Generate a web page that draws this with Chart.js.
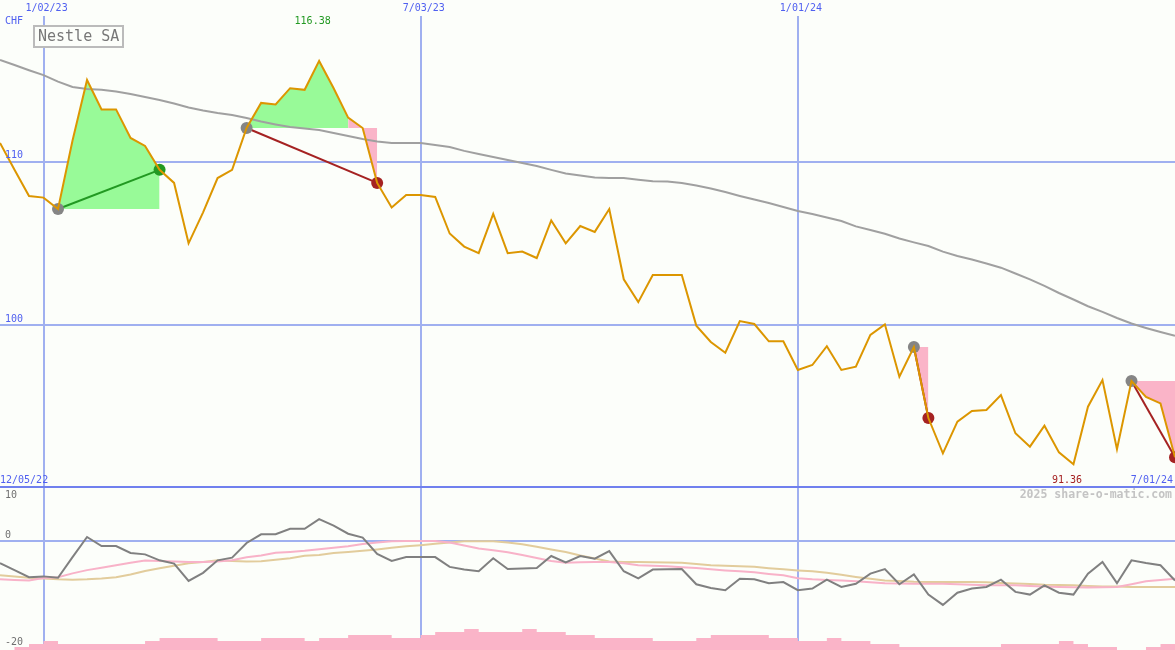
<!DOCTYPE html>
<html><head><meta charset="utf-8">
<script src="https://cdn.jsdelivr.net/npm/chart.js@4.4.1/dist/chart.umd.min.js"></script>
<style>
html,body{margin:0;padding:0;background:#FCFEFA;overflow:hidden;}
#wrap{position:relative;width:1175px;height:650px;}
#top{position:absolute;left:0;top:0;width:1175px;height:487px;}
#bot{position:absolute;left:0;top:485px;width:1175px;height:165px;}
</style></head><body>
<div id="wrap"><canvas id="top" width="1175" height="487"></canvas><canvas id="bot" width="1175" height="165"></canvas></div>
<script>
// ---- data (weekly, index 0 .. 81) ----
const title = 'Nestle SA';
const currency = 'CHF';
const startLabel = '12/05/22';
const endLabel = '7/01/24';
const dateTickIdx = [3, 29, 55];
const dateTickLabels = ['1/02/23', '7/03/23', '1/01/24'];
const priceGridValues = [110, 100];
const oscGridValues = [10, 0];
const oscLabelValues = [10, 0, -20];
const highIdx = 22, highLabel = '116.38';
const lowIdx = 74, lowLabel = '91.36';
const watermark = '2025 share-o-matic.com';

const price = [
111.15, 109.5, 107.9, 107.8, 107.1, 111.3, 115.0, 113.2, 113.2, 111.45,
110.96, 109.5, 108.7, 105.0, 106.9, 109.0, 109.5, 112.06, 113.6, 113.5,
114.5, 114.4, 116.17, 114.5, 112.7, 112.06, 108.7, 107.2, 107.96, 107.96,
107.84, 105.6, 104.8, 104.4, 106.8, 104.4, 104.5, 104.1, 106.4, 105.0,
106.06, 105.7, 107.1, 102.8, 101.4, 103.06, 103.06, 103.06, 99.96, 98.96,
98.3, 100.24, 100.06, 99.0, 99.0, 97.25, 97.55, 98.7, 97.25, 97.45,
99.39, 100.04, 96.83, 98.65, 94.3, 92.14, 94.08, 94.73, 94.8, 95.71,
93.37, 92.55, 93.83, 92.2, 91.47, 95.0, 96.63, 92.4, 96.57, 95.6,
95.2, 91.9];

const movingAvg = [
116.23, 115.92, 115.6, 115.3, 114.9, 114.57, 114.45, 114.4, 114.3, 114.15,
113.96, 113.78, 113.56, 113.32, 113.13, 112.98, 112.86, 112.68, 112.46, 112.28,
112.12, 112.03, 111.94, 111.76, 111.57, 111.39, 111.24, 111.15, 111.15, 111.15,
111.02, 110.9, 110.66, 110.47, 110.29, 110.1, 109.92, 109.74, 109.5, 109.28,
109.15, 109.03, 109.0, 109.0, 108.9, 108.8, 108.79, 108.7, 108.54, 108.36,
108.14, 107.9, 107.68, 107.47, 107.23, 106.98, 106.8, 106.58, 106.37, 106.04,
105.82, 105.59, 105.3, 105.06, 104.84, 104.49, 104.23, 104.01, 103.77, 103.51,
103.15, 102.79, 102.39, 101.96, 101.56, 101.15, 100.8, 100.43, 100.09, 99.82,
99.57, 99.34];

// trades: entry index, end of green phase, exit index
const tradeEntry = [4, 17, 63, 78];
const tradeGreenEnd = [11, 24, 63, 78];
const tradeExit = [11, 26, 64, 81];

const oscillator = [
-4.0, -5.3, -6.6, -6.45, -6.7, -2.9, 0.8, -0.87, -0.87, -2.15,
-2.4, -3.5, -4.1, -7.3, -5.8, -3.5, -3.0, -0.3, 1.3, 1.3,
2.3, 2.3, 4.1, 2.9, 1.4, 0.7, -2.3, -3.6, -2.9, -2.9,
-2.9, -4.7, -5.2, -5.5, -3.1, -5.1, -5.0, -4.9, -2.7, -3.9,
-2.7, -3.2, -1.8, -5.5, -6.8, -5.2, -5.15, -5.1, -7.9, -8.6,
-9.0, -6.9, -7.0, -7.7, -7.5, -9.0, -8.7, -7.05, -8.4, -7.8,
-5.95, -5.1, -7.9, -6.1, -9.8, -11.7, -9.45, -8.7, -8.4, -7.05,
-9.3, -9.8, -8.1, -9.45, -9.8, -5.95, -3.8, -7.7, -3.5, -4.0,
-4.4, -7.2];

const oscPink = [
-7.0, -7.1, -7.2, -6.75, -6.6, -5.9, -5.3, -4.85, -4.4, -3.95,
-3.55, -3.6, -3.7, -3.8, -3.8, -3.7, -3.5, -2.95, -2.6, -2.1,
-1.95, -1.75, -1.45, -1.2, -0.9, -0.5, -0.2, 0, 0.05, 0.05,
0.05, -0.2, -0.75, -1.3, -1.65, -2.0, -2.5, -3.05, -3.6, -3.95,
-3.85, -3.8, -3.8, -4.05, -4.4, -4.5, -4.6, -4.75, -4.9, -5.15,
-5.35, -5.5, -5.7, -6.0, -6.25, -6.8, -7.0, -7.1, -7.2, -7.35,
-7.55, -7.7, -7.75, -7.8, -7.8, -7.8, -7.9, -8.0, -8.1, -8.1,
-8.1, -8.2, -8.3, -8.4, -8.45, -8.5, -8.45, -8.4, -7.9, -7.35,
-7.1, -6.9];

const oscTan = [
-6.25, -6.45, -6.7, -6.85, -7.0, -7.05, -7.0, -6.85, -6.6, -6.1,
-5.45, -4.95, -4.5, -4.05, -3.8, -3.5, -3.6, -3.7, -3.65, -3.4,
-3.1, -2.65, -2.5, -2.15, -1.95, -1.75, -1.5, -1.2, -0.9, -0.7,
-0.45, -0.2, 0, 0, 0, -0.2, -0.55, -1.0, -1.5, -1.95,
-2.6, -3.15, -3.7, -3.8, -3.8, -3.85, -3.9, -3.95, -4.15, -4.4,
-4.5, -4.6, -4.7, -4.95, -5.15, -5.35, -5.5, -5.8, -6.15, -6.55,
-6.9, -7.2, -7.3, -7.45, -7.5, -7.5, -7.5, -7.5, -7.55, -7.65,
-7.75, -7.85, -8.0, -8.05, -8.1, -8.2, -8.3, -8.3, -8.4, -8.4,
-8.4, -8.4];

const volumeLevel = [
0, 1, 2, 3, 2, 2, 2, 2, 2, 2,
3, 4, 4, 4, 4, 3, 3, 3, 4, 4,
4, 3, 4, 4, 5, 5, 5, 4, 4, 5,
6, 6, 7, 6, 6, 6, 7, 6, 6, 5,
5, 4, 4, 4, 4, 3, 3, 3, 4, 5,
5, 5, 5, 4, 4, 3, 3, 4, 3, 3,
2, 2, 1, 1, 1, 1, 1, 1, 1, 2,
2, 2, 2, 3, 2, 1, 1, 0, 0, 1,
2, 2];

// ---- styles ----
const BLUE_TXT = '#5060F0';
const GRID = '#A0B0F0';
const GRID_DARK = '#7080EE';
const ORANGE = '#DC9600';
const MA_GRAY = '#A0A0A0';
const GREEN_FILL = '#98FA98';
const PINK_FILL = '#FAB4C8';
const GREEN = '#229922';
const DARKRED = '#A52222';
const MARK_GRAY = '#858585';
const MONO = '"DejaVu Sans Mono", "Liberation Mono", monospace';

const pts = arr => arr.map((v, i) => ({x: i, y: v}));
const slicePts = (arr, a, b) => arr.slice(a, b + 1).map((v, k) => ({x: a + k, y: v}));

// ---- top chart datasets ----
const topSets = [];
topSets.push({data: pts(price), borderColor: ORANGE, borderWidth: 2, pointRadius: 0, tension: 0, order: 0});
tradeEntry.forEach((e, t) => {
  const x = tradeExit[t];
  const col = price[x] >= price[e] ? GREEN : DARKRED;
  topSets.push({data: [{x: e, y: price[e]}, {x: x, y: price[x]}], borderColor: col, borderWidth: 2,
    pointRadius: 6, pointHoverRadius: 6, pointBorderWidth: 0,
    pointBackgroundColor: [MARK_GRAY, col], pointBorderColor: [MARK_GRAY, col], order: 1});
});
topSets.push({data: pts(movingAvg), borderColor: MA_GRAY, borderWidth: 2, pointRadius: 0, tension: 0, order: 2});
tradeEntry.forEach((e, t) => {
  const g = tradeGreenEnd[t], x = tradeExit[t];
  if (g > e) topSets.push({data: slicePts(price, e, g), borderWidth: 0, borderColor: 'transparent', pointRadius: 0,
    backgroundColor: GREEN_FILL, fill: {value: price[e]}, order: 3});
  if (x > g) topSets.push({data: slicePts(price, g, x), borderWidth: 0, borderColor: 'transparent', pointRadius: 0,
    backgroundColor: PINK_FILL, fill: {value: price[e]}, order: 3});
});

const topText = {
  id: 'topText',
  afterDraw(chart) {
    const {ctx} = chart; const x = chart.scales.x, y = chart.scales.y;
    ctx.save();
    ctx.font = '10px ' + MONO;
    ctx.textBaseline = 'middle';
    ctx.fillStyle = BLUE_TXT;
    ctx.textAlign = 'left';
    dateTickIdx.forEach((d, k) => ctx.fillText(dateTickLabels[k], x.getPixelForValue(d) - 18, 8));
    ctx.fillText(currency, 5, 21);
    priceGridValues.forEach(v => ctx.fillText(String(v), 5, y.getPixelForValue(v) - 6));
    ctx.fillText(startLabel, 0, 480);
    ctx.textAlign = 'right';
    ctx.fillText(endLabel, 1173, 480);
    ctx.textAlign = 'center';
    ctx.fillStyle = GREEN;
    ctx.fillText(highLabel, x.getPixelForValue(highIdx) - 6.5, 21);
    ctx.fillStyle = DARKRED;
    ctx.fillText(lowLabel, x.getPixelForValue(lowIdx) - 6.5, 480);
    // title box
    ctx.fillStyle = '#FCFEFA';
    ctx.fillRect(34, 26, 89, 21);
    ctx.strokeStyle = '#BBBBBB'; ctx.lineWidth = 2;
    ctx.strokeRect(34, 26, 89, 21);
    ctx.fillStyle = '#777777';
    ctx.font = '15px ' + MONO;
    ctx.textAlign = 'left';
    ctx.fillText(title, 38, 37);
    ctx.restore();
  }
};

new Chart(document.getElementById('top'), {
  type: 'line',
  data: {datasets: topSets},
  options: {
    responsive: false, animation: false, devicePixelRatio: 1,
    layout: {autoPadding: false, padding: {top: 16, left: 0, right: 0, bottom: 0}},
    plugins: {legend: {display: false}, tooltip: {enabled: false}},
    scales: {
      x: {type: 'linear', min: 0, max: price.length - 1, display: true,
        afterBuildTicks: s => { s.ticks = dateTickIdx.map(v => ({value: v})); },
        ticks: {display: false}, border: {display: false},
        grid: {color: GRID, lineWidth: 2, drawTicks: false}},
      y: {type: 'linear', min: 90.08, max: 118.92, display: true,
        afterBuildTicks: s => { s.ticks = priceGridValues.map(v => ({value: v})); },
        ticks: {display: false}, border: {display: false},
        grid: {color: GRID, lineWidth: 2, drawTicks: false}}
    }
  },
  plugins: [topText]
});

// ---- bottom chart ----
const botText = {
  id: 'botText',
  afterDraw(chart) {
    const {ctx} = chart; const y = chart.scales.y;
    ctx.save();
    ctx.font = '10px ' + MONO;
    ctx.textBaseline = 'middle';
    ctx.textAlign = 'left';
    ctx.fillStyle = '#707070';
    oscLabelValues.forEach(v => {
      const off = v === y.max ? 8 : (v === y.min ? -8 : -6);
      ctx.fillText(String(v), 5, y.getPixelForValue(v) + off);
    });
    ctx.font = 'bold 11.5px ' + MONO;
    ctx.fillStyle = '#C4C4C4';
    ctx.textAlign = 'right';
    ctx.fillText(watermark, 1172, 10);
    ctx.restore();
  }
};

new Chart(document.getElementById('bot'), {
  type: 'line',
  data: {datasets: [
    {data: pts(oscillator), borderColor: '#808080', borderWidth: 2, pointRadius: 0, tension: 0, order: 0},
    {data: pts(oscPink), borderColor: '#F8B2C8', borderWidth: 2, pointRadius: 0, tension: 0, order: 1},
    {data: pts(oscTan), borderColor: '#E2CC9C', borderWidth: 2, pointRadius: 0, tension: 0, order: 2},
    {data: pts(volumeLevel), yAxisID: 'yb', stepped: 'before', borderWidth: 0, borderColor: 'transparent',
      pointRadius: 0, backgroundColor: PINK_FILL, fill: 'origin', order: 3}
  ]},
  options: {
    responsive: false, animation: false, devicePixelRatio: 1,
    layout: {autoPadding: false, padding: {top: 2, left: 0, right: 0, bottom: 0}},
    plugins: {legend: {display: false}, tooltip: {enabled: false}},
    scales: {
      x: {type: 'linear', min: 0, max: price.length - 1, display: true,
        afterBuildTicks: s => { s.ticks = dateTickIdx.map(v => ({value: v})); },
        ticks: {display: false}, border: {display: false},
        grid: {color: GRID, lineWidth: 2, drawTicks: false}},
      y: {type: 'linear', min: -20, max: 10, display: true,
        afterBuildTicks: s => { s.ticks = oscGridValues.map(v => ({value: v})); },
        ticks: {display: false}, border: {display: false},
        grid: {color: c => (c.tick && c.tick.value === 10) ? GRID_DARK : GRID, lineWidth: 2, drawTicks: false}},
      yb: {type: 'linear', min: 0, max: 163 / 3, display: false}
    }
  },
  plugins: [botText]
});
</script>
</body></html>
